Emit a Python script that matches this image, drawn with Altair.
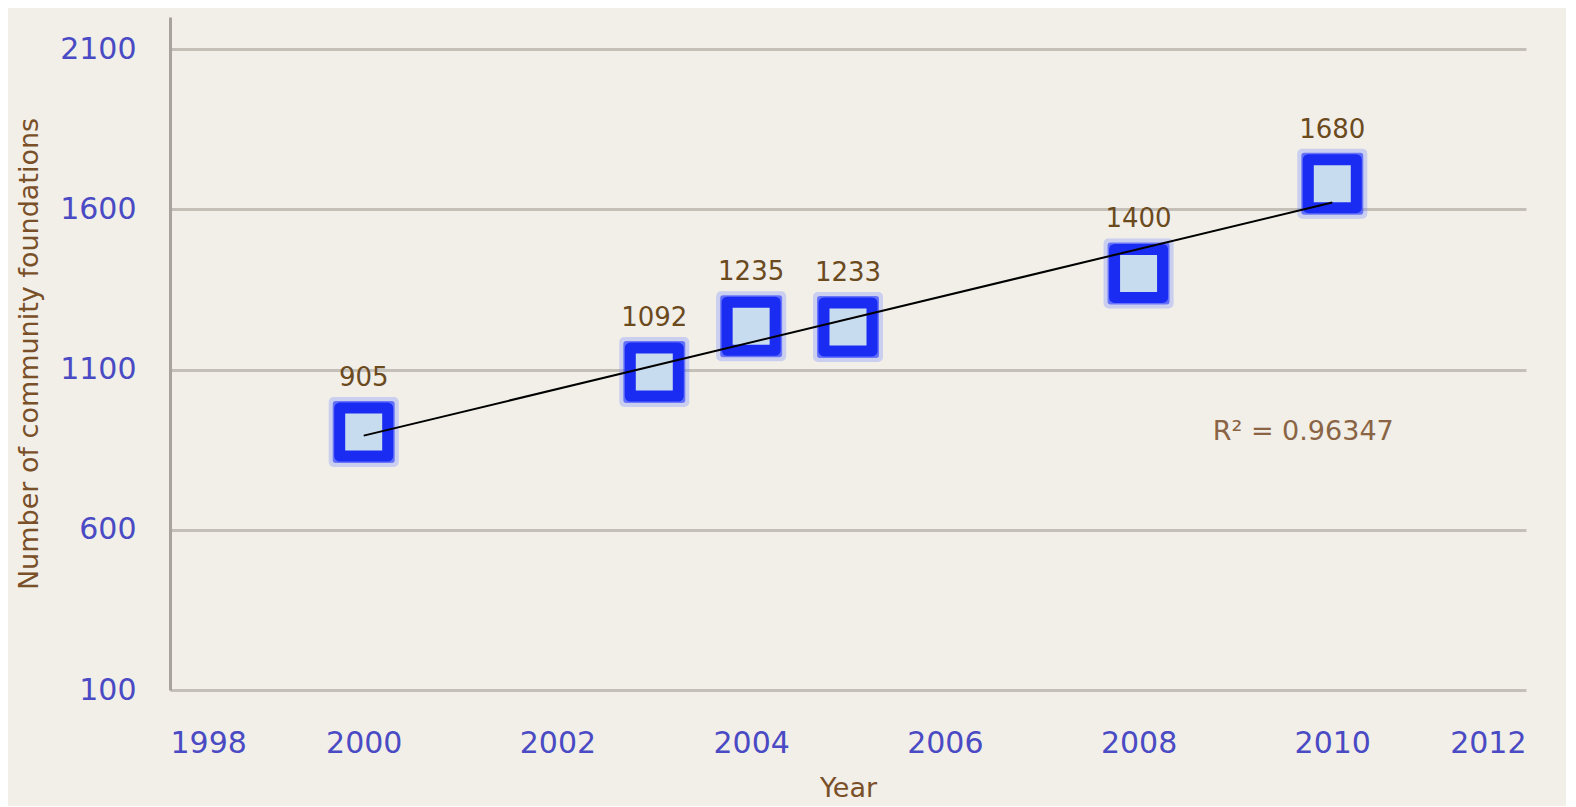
import altair as alt
import pandas as pd

years = [2000, 2003, 2004, 2005, 2008, 2010]
counts = [905, 1092, 1235, 1233, 1400, 1680]
x_ticks = [1998, 2000, 2002, 2004, 2006, 2008, 2010, 2012]
y_ticks = [100, 600, 1100, 1600, 2100]
r2_text = ["R\u00b2 = 0.96347"]
r2_pos_x = [2009.7]
r2_pos_y = [905]

df = pd.DataFrame({"Year": years, "Count": counts, "Label": [str(c) for c in counts]})
r2_df = pd.DataFrame({"Year": r2_pos_x, "Count": r2_pos_y, "Label": r2_text})

FONT = "DejaVu Sans"
xs = alt.Scale(domain=[1998, 2012], nice=False, zero=False)
ys = alt.Scale(domain=[100, 2200], nice=False, zero=False)

x_enc = alt.X("Year:Q", scale=xs, title="Year",
              axis=alt.Axis(values=x_ticks, format="d", grid=False, domain=False, ticks=False,
                            labelFont=FONT, labelFontSize=30, labelColor="#4a4ac4",
                            labelPadding=38, titleFont=FONT, titleFontSize=27,
                            titleFontWeight="normal", titleColor="#7a5028", titlePadding=17))
y_enc = alt.Y("Count:Q", scale=ys, title="Number of community foundations",
              axis=alt.Axis(values=y_ticks, format="d", grid=True, gridColor="#c4c0b8", gridWidth=3,
                            domain=True, domainColor="#a8a49c", domainWidth=3, ticks=False,
                            labelFont=FONT, labelFontSize=30, labelColor="#4a4ac4",
                            labelPadding=34, titleFont=FONT, titleFontSize=27,
                            titleFontWeight="normal", titleColor="#7a5028", titlePadding=16))

base = alt.Chart(df)

glow1 = base.mark_square(filled=True, fill="#7080ff", fillOpacity=0.3, stroke="#7080ff",
                         strokeOpacity=0.3, strokeWidth=10, strokeJoin="round",
                         size=60 * 60).encode(x=x_enc, y=y_enc)
glow2 = base.mark_square(filled=True, fill="#2a3cff", fillOpacity=0.6, stroke="#2a3cff",
                         strokeOpacity=0.6, strokeWidth=6, strokeJoin="round",
                         size=56 * 56).encode(x="Year:Q", y="Count:Q")
core = base.mark_square(filled=True, fill="#c8dcf0", stroke="#1a2cf2", strokeWidth=11,
                        strokeJoin="round", opacity=1, fillOpacity=1, strokeOpacity=1,
                        size=48 * 48).encode(x="Year:Q", y="Count:Q")

trend = base.transform_regression("Year", "Count").mark_line(color="#000000", strokeWidth=2).encode(
    x="Year:Q", y="Count:Q")

labels = base.mark_text(font=FONT, fontSize=26, color="#6b4a1e", dy=-54).encode(
    x="Year:Q", y="Count:Q", text="Label:N")

r2 = alt.Chart(r2_df).mark_text(font=FONT, fontSize=27, color="#8a6444").encode(
    x="Year:Q", y="Count:Q", text="Label:N")

chart = alt.layer(glow1, glow2, core, trend, labels, r2).properties(
    width=1356, height=673,
    autosize=alt.AutoSizeParams(type="none"),
    padding={"left": 162, "top": 9, "right": 40, "bottom": 116},
    background="#f1efe8",
).configure_view(stroke=None)

chart.save("out.html", embed_options={"renderer": "svg", "actions": False})
